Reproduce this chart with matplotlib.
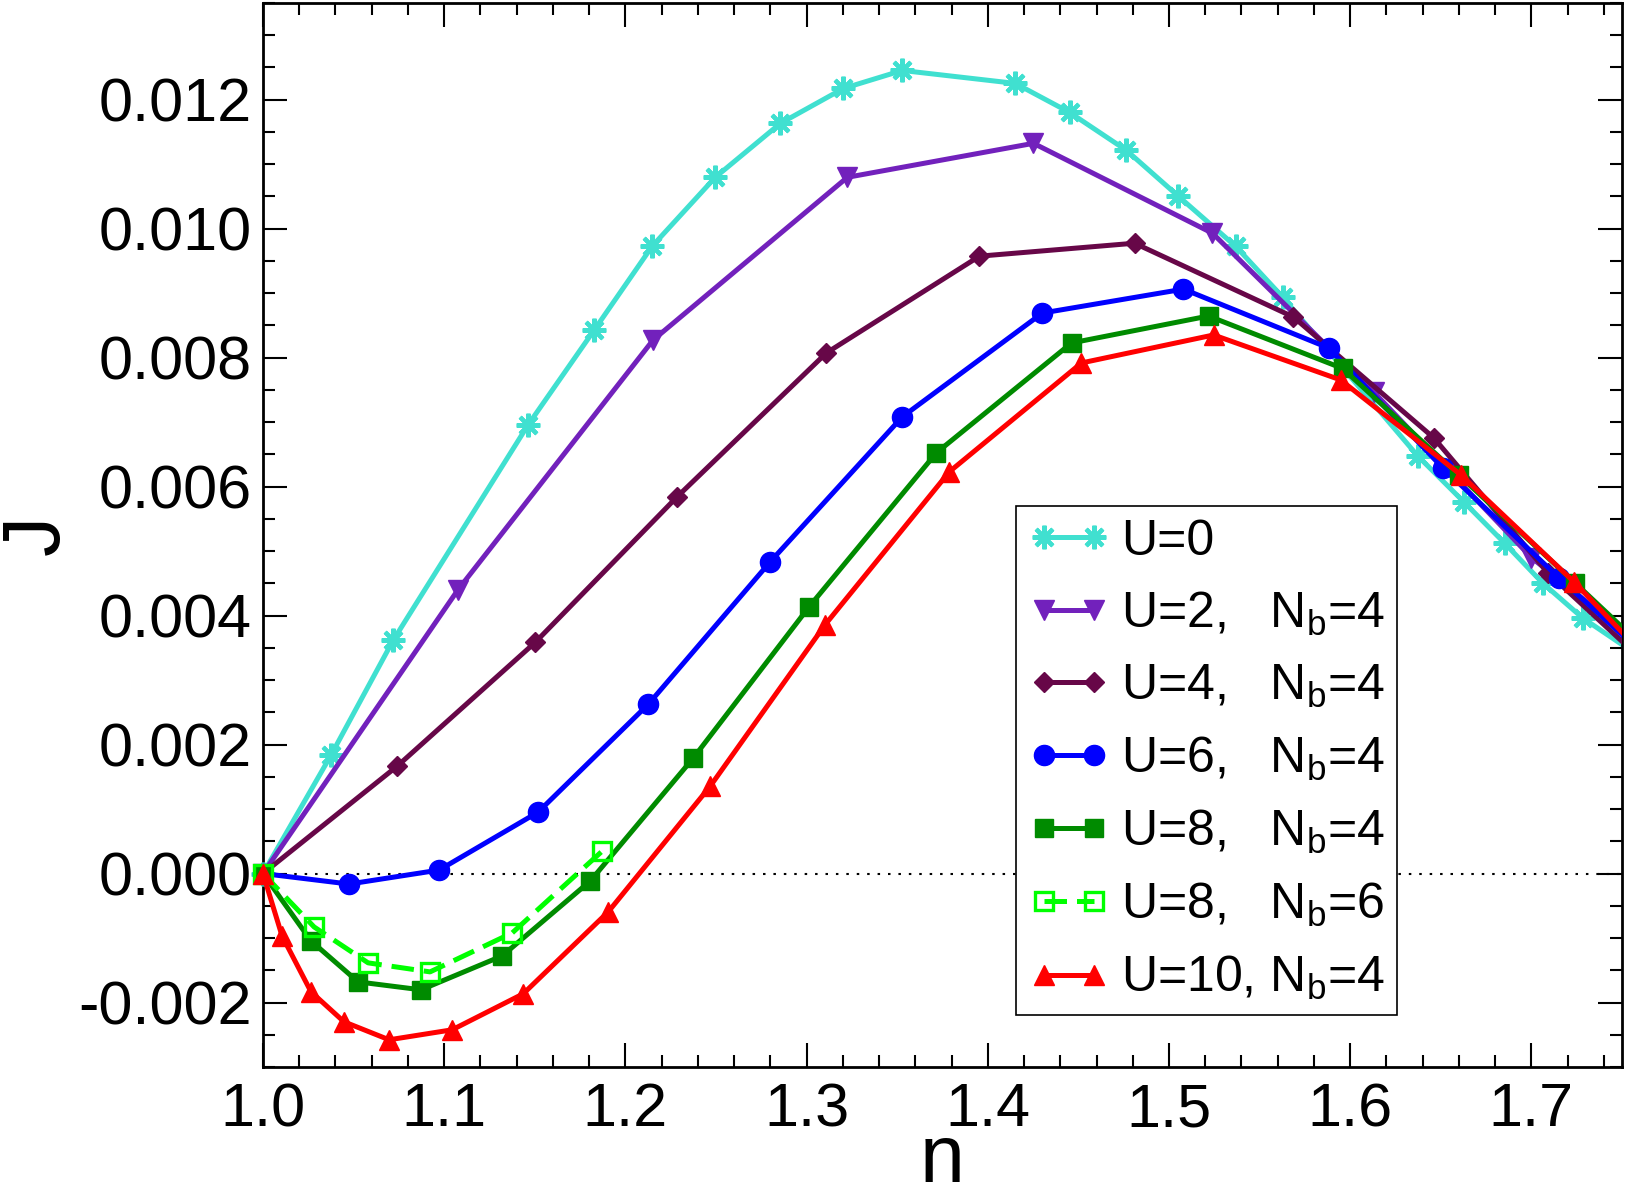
import matplotlib
matplotlib.use("Agg")
import matplotlib.pyplot as plt
from matplotlib.lines import Line2D
from matplotlib.ticker import MultipleLocator, FormatStrFormatter

plt.rcParams['font.family'] = ['Liberation Sans', 'DejaVu Sans']
plt.rcParams['mathtext.fontset'] = 'custom'
plt.rcParams['mathtext.rm'] = 'Liberation Sans'
plt.rcParams['mathtext.it'] = 'Liberation Sans:italic'
plt.rcParams['axes.unicode_minus'] = False

# ---------------- data ----------------
n_u0 = [1.0, 1.0375, 1.0718, 1.1463, 1.1828, 1.2148, 1.2496, 1.2855, 1.3203, 1.3528,
        1.4152, 1.4451, 1.4765, 1.5052, 1.5367, 1.5627, 1.6372, 1.6626, 1.6852,
        1.7062, 1.7283, 1.78]
j_u0 = [0.0, 0.001834, 0.003615, 0.006958, 0.008429, 0.009729, 0.010797, 0.011633,
        0.012175, 0.012454, 0.012253, 0.011804, 0.011215, 0.010503, 0.009729,
        0.008940, 0.006478, 0.005766, 0.005124, 0.004505, 0.003963, 0.00298]

n_u2 = [1.0, 1.1077, 1.2153, 1.3225, 1.4252, 1.5240, 1.6129, 1.70, 1.78]
j_u2 = [0.0, 0.004404, 0.008274, 0.010797, 0.011324, 0.009930, 0.007469, 0.0049, 0.0031]

n_u4 = [1.0, 1.0740, 1.1502, 1.2286, 1.3109, 1.3954, 1.4810, 1.5687, 1.6461, 1.7090, 1.78]
j_u4 = [0.0, 0.001664, 0.003584, 0.005844, 0.008073, 0.009574, 0.009775, 0.008630,
        0.006757, 0.004667, 0.00282]

n_u6 = [1.0, 1.0475, 1.0972, 1.1518, 1.2126, 1.2800, 1.3528, 1.4301, 1.5080, 1.5881,
        1.6510, 1.7151, 1.78]
j_u6 = [0.0, -0.000163, 0.000054, 0.000952, 0.002624, 0.004837, 0.007082, 0.008692,
        0.009063, 0.008150, 0.006293, 0.004590, 0.00294]

n_u8 = [1.0, 1.0265, 1.0525, 1.0872, 1.1320, 1.1806, 1.2374, 1.3015, 1.3716, 1.4462,
        1.5218, 1.5958, 1.6598, 1.7239, 1.78]
j_u8 = [0.0, -0.001045, -0.001680, -0.001803, -0.001277, -0.000116, 0.001789, 0.004141,
        0.006524, 0.008228, 0.008646, 0.007833, 0.006184, 0.004512, 0.00303]

n_u8b6 = [1.0, 1.0282, 1.0580, 1.0922, 1.1375, 1.1872]
j_u8b6 = [0.0, -0.000828, -0.001385, -0.001525, -0.000921, 0.000348]

n_u10 = [1.0, 1.0105, 1.0265, 1.0447, 1.0696, 1.1044, 1.1436, 1.1905, 1.2468, 1.3103,
         1.3788, 1.4517, 1.5246, 1.5947, 1.6610, 1.7233, 1.78]
j_u10 = [0.0, -0.000967, -0.001834, -0.002299, -0.002578, -0.002423, -0.001865,
         -0.000595, 0.001354, 0.003862, 0.006231, 0.007918, 0.008352, 0.007655,
         0.006184, 0.004528, 0.00286]

labels = ['U=0', 'U=2,   N$_\\mathrm{b}$=4', 'U=4,   N$_\\mathrm{b}$=4',
          'U=6,   N$_\\mathrm{b}$=4', 'U=8,   N$_\\mathrm{b}$=4',
          'U=8,   N$_\\mathrm{b}$=6', 'U=10, N$_\\mathrm{b}$=4']

xmin, xmax = 1.0, 1.75
ymin, ymax = -0.003, 0.0135

# ---------------- figure ----------------
fig = plt.figure(figsize=(16.28, 11.86), dpi=100)
ax = fig.add_axes([263 / 1628, 1 - 1067 / 1186, (1622 - 263) / 1628, (1067 - 3) / 1186])

ax.plot([xmin, xmax], [0, 0], color='black', lw=1.5, dashes=(1.2, 3.8), zorder=1)

LW = 3.6
series = [
    (n_u0, j_u0, dict(color='#40E0D0', marker=(8, 2, 0), ms=17, mew=3, mfc='#40E0D0', ls='-')),
    (n_u2, j_u2, dict(color='#7221BC', marker='v', ms=15, mew=1, mfc='#7221BC', ls='-')),
    (n_u4, j_u4, dict(color='#670748', marker='D', ms=10.5, mew=1, mfc='#670748', ls='-')),
    (n_u6, j_u6, dict(color='#0000FF', marker='o', ms=14.5, mew=1, mfc='#0000FF', ls='-')),
    (n_u8, j_u8, dict(color='#008B00', marker='s', ms=13, mew=1, mfc='#008B00', ls='-')),
    (n_u8b6, j_u8b6, dict(color='#00FF00', marker='s', ms=13, mew=2.4, mfc='none', ls='--')),
    (n_u10, j_u10, dict(color='#FF0000', marker='^', ms=15, mew=1, mfc='#FF0000', ls='-')),
]

handles = []
for i, (xs, ys, st) in enumerate(series):
    z = 2 + 2 * i
    kw_line = dict(color=st['color'], lw=LW, zorder=z)
    if st['ls'] == '--':
        kw_line['dashes'] = (4.5, 2)
    ax.plot(xs, ys, **kw_line)
    xin = [x for x in xs if x <= xmax]
    yin = [y for x, y in zip(xs, ys) if x <= xmax]
    ax.plot(xin, yin, ls='none', marker=st['marker'], ms=st['ms'], mew=st['mew'],
            mec=st['color'], mfc=st['mfc'], zorder=z + 1, clip_on=False)
    h = Line2D([], [], color=st['color'], lw=LW, marker=st['marker'], ms=st['ms'],
               mew=st['mew'], mec=st['color'], mfc=st['mfc'])
    if st['ls'] == '--':
        h.set_dashes((4.5, 2))
    handles.append(h)

ax.set_xlim(xmin, xmax)
ax.set_ylim(ymin, ymax)

ax.xaxis.set_major_locator(MultipleLocator(0.1))
ax.xaxis.set_minor_locator(MultipleLocator(0.02))
ax.yaxis.set_major_locator(MultipleLocator(0.002))
ax.yaxis.set_minor_locator(MultipleLocator(0.0005))
ax.xaxis.set_major_formatter(FormatStrFormatter('%.1f'))
ax.yaxis.set_major_formatter(FormatStrFormatter('%.3f'))

ax.tick_params(which='both', direction='in', top=True, right=True, width=1.5)
ax.tick_params(which='major', length=17)
ax.tick_params(which='minor', length=8.5)
ax.tick_params(axis='x', which='major', labelsize=44, pad=11)
ax.tick_params(axis='y', which='major', labelsize=44, pad=8)
for sp in ax.spines.values():
    sp.set_linewidth(2)

ax.set_xlabel('n', fontsize=58, labelpad=-12)
ax.set_ylabel('J', fontsize=58, labelpad=2)

leg = ax.legend(handles, labels, loc='upper left',
                bbox_to_anchor=(1016 / 1628, 1 - 506 / 1186), bbox_transform=fig.transFigure,
                borderaxespad=0, fontsize=36, numpoints=2, handlelength=1.6,
                handletextpad=0.25, borderpad=0.25, labelspacing=0.5,
                fancybox=False, framealpha=1, edgecolor='black')
leg.get_frame().set_linewidth(1.2)
leg.set_zorder(30)

fig.savefig('out.png', dpi=100)
